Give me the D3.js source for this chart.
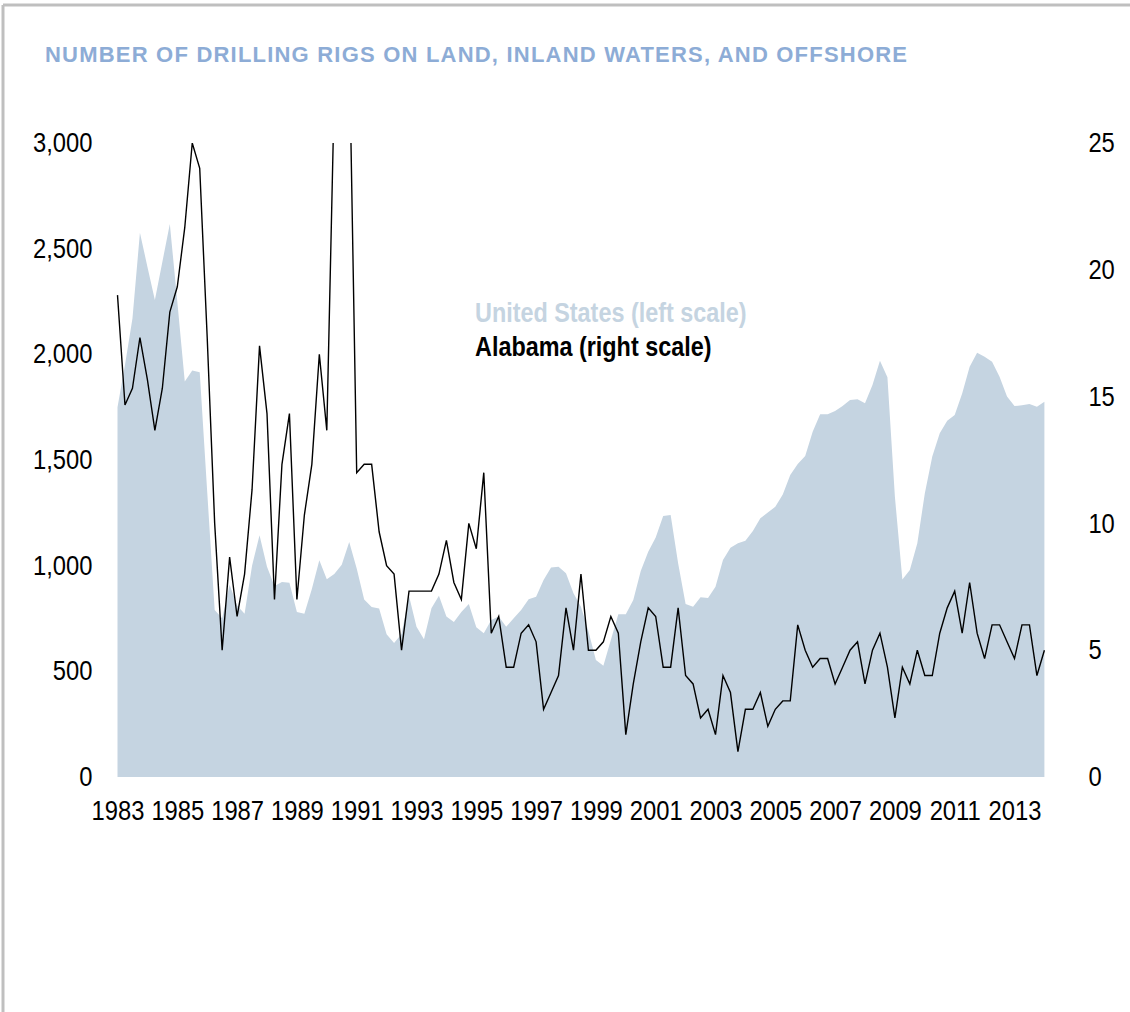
<!DOCTYPE html>
<html>
<head>
<meta charset="utf-8">
<script src="https://cdn.jsdelivr.net/npm/d3@7"></script>
<style>
  body { margin: 0; background: #fff; }
  svg text { font-family: "Liberation Sans Narrow", "Arial Narrow", "Liberation Sans", Arial, sans-serif; }
</style>
</head>
<body>
<div id="chart"></div>
<script>
// quarterly values, 1983 Q1 .. 2014 Q1
var yearLabels = ["1983", "1985", "1987", "1989", "1991", "1993", "1995", "1997",
                  "1999", "2001", "2003", "2005", "2007", "2009", "2011", "2013"];

var usRigs = [
    1750, 1950, 2170, 2575, 2415, 2257, 2437, 2617, 2250, 1871, 1923, 1915,
    1350, 790, 751, 910, 812, 772, 1000, 1144, 995, 904, 923, 919,
    781, 772, 890, 1026, 936, 961, 1004, 1112, 987, 840, 805, 797,
    676, 634, 677, 857, 711, 652, 799, 858, 760, 733, 781, 819,
    709, 680, 743, 759, 711, 751, 790, 841, 853, 932, 991, 995,
    964, 869, 806, 690, 554, 527, 648, 770, 770, 838, 975, 1066,
    1133, 1235, 1240, 1011, 819, 806, 850, 847, 900, 1027, 1085, 1106,
    1118, 1164, 1224, 1251, 1279, 1337, 1429, 1481, 1519, 1634, 1716, 1716,
    1732, 1755, 1784, 1787, 1768, 1855, 1970, 1891, 1326, 935, 979, 1106,
    1342, 1516, 1626, 1686, 1713, 1815, 1941, 2008, 1989, 1965, 1894, 1800,
    1755, 1759, 1765, 1752, 1776
];

var alRigs = [
    19, 14.67, 15.33, 17.33, 15.67, 13.67, 15.33, 18.33, 19.33, 21.67, 25, 24,
    17.33, 10, 5, 8.67, 6.33, 8, 11.33, 17, 14.33, 7, 12.33, 14.33,
    7, 10.33, 12.33, 16.67, 13.67, 27, 31, 29, 12, 12.33, 12.33, 9.67,
    8.33, 8, 5, 7.33, 7.33, 7.33, 7.33, 8, 9.33, 7.67, 7, 10,
    9, 12, 5.67, 6.33, 4.33, 4.33, 5.67, 6, 5.33, 2.67, 3.33, 4,
    6.67, 5, 8, 5, 5, 5.33, 6.33, 5.67, 1.67, 3.67, 5.33, 6.67,
    6.33, 4.33, 4.33, 6.67, 4, 3.67, 2.33, 2.67, 1.67, 4, 3.33, 1,
    2.67, 2.67, 3.33, 2, 2.67, 3, 3, 6, 5, 4.33, 4.67, 4.67,
    3.67, 4.33, 5, 5.33, 3.67, 5, 5.67, 4.33, 2.33, 4.33, 3.67, 5,
    4, 4, 5.67, 6.67, 7.33, 5.67, 7.67, 5.67, 4.67, 6, 6, 5.33,
    4.67, 6, 6, 4, 5
];

var leftTicks = [0, 500, 1000, 1500, 2000, 2500, 3000];
var rightTicks = [0, 5, 10, 15, 20, 25];

var width = 1130, height = 1012;
var margin = { top: 143, right: 85.6, bottom: 235, left: 117.5 };
var chartWidth = width - margin.left - margin.right;
var chartHeight = height - margin.top - margin.bottom;

// squeeze text horizontally (no narrow font installed)
function squeeze(sel, factor) {
    sel.each(function() {
        var w = this.getComputedTextLength();
        d3.select(this)
            .attr("textLength", w * factor)
            .attr("lengthAdjust", "spacingAndGlyphs");
    });
}

var svg = d3.select("#chart").append("svg")
    .attr("width", width)
    .attr("height", height);

// frame
svg.append("line").attr("x1", 3).attr("x2", width).attr("y1", 5).attr("y2", 5)
    .attr("stroke", "#bfbfbf").attr("stroke-width", 3);
svg.append("line").attr("x1", 3).attr("x2", 3).attr("y1", 5).attr("y2", height)
    .attr("stroke", "#bfbfbf").attr("stroke-width", 3);

svg.append("text")
    .attr("x", 45)
    .attr("y", 62)
    .attr("font-size", 22)
    .attr("font-weight", "bold")
    .attr("fill", "#8dacd6")
    .attr("textLength", 862)
    .attr("lengthAdjust", "spacing")
    .text("NUMBER OF DRILLING RIGS ON LAND, INLAND WATERS, AND OFFSHORE");

var chartGroup = svg.append("g")
    .attr("transform", `translate(${margin.left}, ${margin.top})`);

var xScale = d3.scaleLinear()
    .domain([0, usRigs.length - 1])
    .range([0, chartWidth]);

var yLeft = d3.scaleLinear().domain([0, 3000]).range([chartHeight, 0]);
var yRight = d3.scaleLinear().domain([0, 25]).range([chartHeight, 0]);

chartGroup.append("clipPath").attr("id", "plotClip")
    .append("rect")
    .attr("x", -5).attr("y", 0)
    .attr("width", chartWidth + 10).attr("height", chartHeight);

// area for the US
var area = d3.area()
    .x((d, i) => xScale(i))
    .y0(chartHeight)
    .y1(d => yLeft(d));

chartGroup.append("path")
    .datum(usRigs)
    .attr("d", area)
    .attr("fill", "#c5d4e1");

// line for Alabama
var line = d3.line()
    .x((d, i) => xScale(i))
    .y(d => yRight(d));

chartGroup.append("path")
    .datum(alRigs)
    .attr("d", line)
    .attr("clip-path", "url(#plotClip)")
    .attr("fill", "none")
    .attr("stroke", "#000")
    .attr("stroke-width", 1.4)
    .attr("stroke-linejoin", "miter");

// axes
var leftAxis = d3.axisLeft(yLeft)
    .tickValues(leftTicks)
    .tickSize(0)
    .tickPadding(25)
    .tickFormat(d3.format(","));

var rightAxis = d3.axisRight(yRight)
    .tickValues(rightTicks)
    .tickSize(0)
    .tickPadding(0);

var bottomAxis = d3.axisBottom(xScale)
    .tickValues(yearLabels.map((d, i) => i * 8))
    .tickSize(0)
    .tickPadding(24)
    .tickFormat((d, i) => yearLabels[i]);

chartGroup.append("g").attr("class", "axis").call(leftAxis);
chartGroup.append("g").attr("class", "axis")
    .attr("transform", `translate(${chartWidth + 44}, 0)`)
    .call(rightAxis);
chartGroup.append("g").attr("class", "axis")
    .attr("transform", `translate(0, ${chartHeight})`)
    .call(bottomAxis);

chartGroup.selectAll(".axis .domain").remove();
chartGroup.selectAll(".axis text")
    .attr("font-size", 27)
    .attr("fill", "#000")
    .style("font-family", null);
squeeze(chartGroup.selectAll(".axis text"), 0.88);

// legend
var legend1 = chartGroup.append("text")
    .attr("x", 475 - margin.left)
    .attr("y", 322 - margin.top)
    .attr("font-size", 28)
    .attr("font-weight", "bold")
    .attr("fill", "#c5d4e1")
    .text("United States (left scale)");

var legend2 = chartGroup.append("text")
    .attr("x", 475 - margin.left)
    .attr("y", 356 - margin.top)
    .attr("font-size", 28)
    .attr("font-weight", "bold")
    .attr("fill", "#000")
    .text("Alabama (right scale)");

squeeze(legend1, 0.835);
squeeze(legend2, 0.835);
</script>
</body>
</html>
